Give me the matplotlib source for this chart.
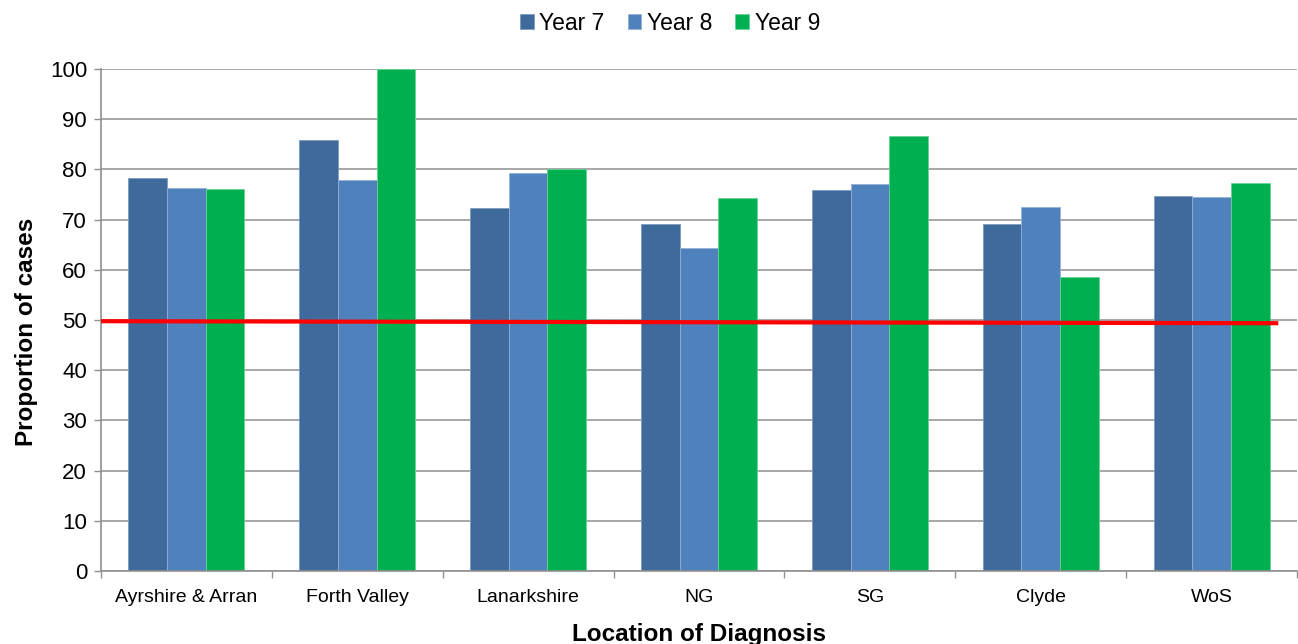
import matplotlib.pyplot as plt
import numpy as np

plt.rcParams['font.family'] = ['Liberation Sans', 'DejaVu Sans']

locations = ['Ayrshire & Arran', 'Forth Valley', 'Lanarkshire', 'NG', 'SG', 'Clyde', 'WoS']
year7 = [78.3, 85.8, 72.3, 69.2, 75.9, 69.1, 74.7]
year8 = [76.3, 77.8, 79.3, 64.3, 77.1, 72.4, 74.4]
year9 = [76.0, 100.0, 80.0, 74.3, 86.6, 58.5, 77.3]
series = ['Year 7', 'Year 8', 'Year 9']
colors = ['#3F6A9B', '#4F81BD', '#00B050']
edges = ['#7C9BC0', '#93B0D6', '#66D096']

# target line, drawn slightly off level as in the source sheet
target_x = [-0.52, 6.39]
target_y = [49.75, 49.35]

fig = plt.figure(figsize=(12.98, 6.44), dpi=100)
ax = fig.add_axes([0.0778, 0.1134, 0.9215, 0.7796])

x = np.arange(len(locations))
w = 0.226
for i, (vals, name) in enumerate(zip([year7, year8, year9], series)):
    ax.bar(x + (i - 1) * w, vals, w, color=colors[i], edgecolor=edges[i],
           linewidth=0.6, label=name, zorder=2)

ax.plot(target_x, target_y, color='#FF0000', lw=3, zorder=3, solid_capstyle='butt')

ax.set_ylim(0, 100)
ax.set_xlim(-0.5, 6.5)
ax.set_yticks(range(0, 101, 10))
ax.yaxis.grid(True, color='#A0A0A0', lw=1.3, zorder=0)
ax.set_axisbelow(True)

ax.set_xticks(x)
ax.set_xticklabels(locations, fontsize=14)
ax.set_xticks(np.arange(-0.5, 7, 1), minor=True)
ax.tick_params(axis='x', which='major', length=0, pad=13)
ax.tick_params(axis='x', which='minor', length=5, color='#909090', width=1)
ax.tick_params(axis='y', labelsize=16, length=5, color='#909090', width=1, pad=5)

for s in ['top', 'right']:
    ax.spines[s].set_visible(False)
for s in ['left', 'bottom']:
    ax.spines[s].set_color('#909090')
    ax.spines[s].set_linewidth(1.2)

ax.set_ylabel('Proportion of cases', fontsize=17.5, fontweight='bold')
ax.yaxis.set_label_coords(-0.053, 0.476)
ax.set_xlabel('Location of Diagnosis', fontsize=17.5, fontweight='bold')
ax.xaxis.label.set_va('center')
ax.xaxis.set_label_coords(0.5, -0.1275)

handles, labels = ax.get_legend_handles_labels()
fig.legend(handles, labels, loc='center', bbox_to_anchor=(670 / 1298, 1 - 23 / 644),
           ncol=3, frameon=False, fontsize=16.5, handlelength=0.6, handleheight=0.6,
           handletextpad=0.25, columnspacing=1.0, borderaxespad=0)

fig.savefig('out.png', dpi=100)
